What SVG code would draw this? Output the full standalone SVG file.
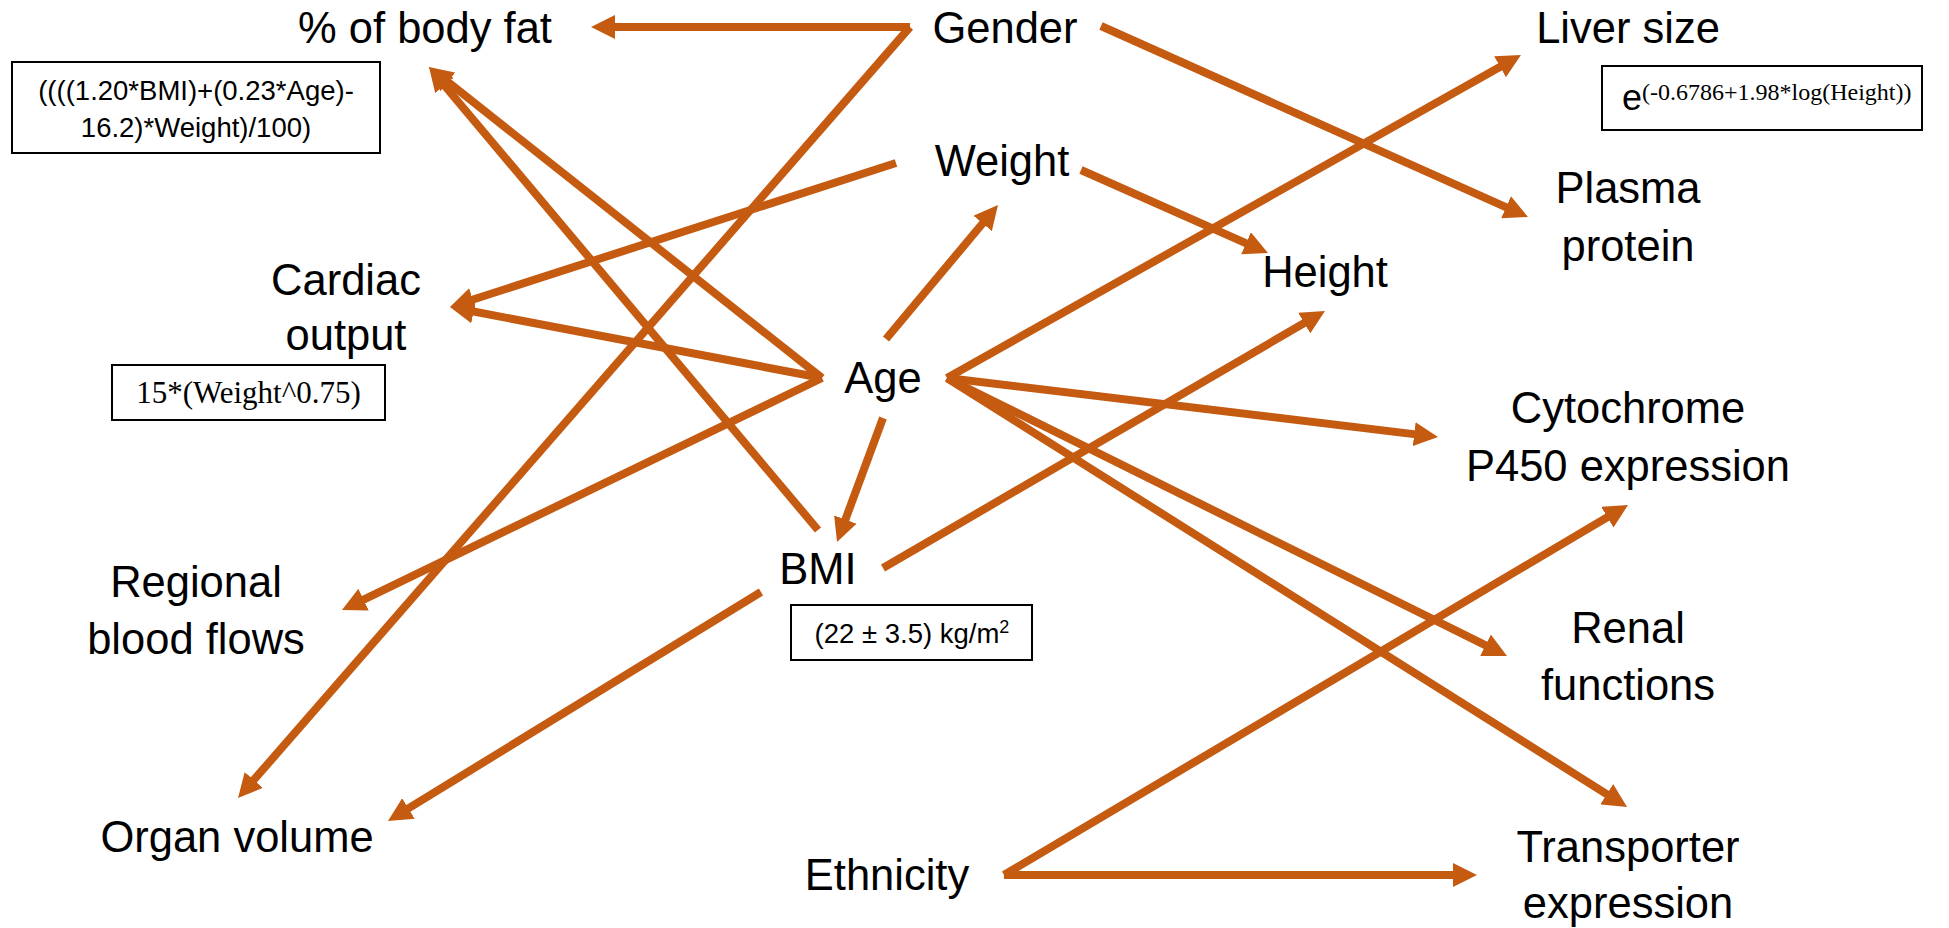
<svg xmlns="http://www.w3.org/2000/svg" width="1949" height="928" viewBox="0 0 1949 928">
<style>
.lbl{font-family:"Liberation Sans",Arial,sans-serif;font-size:43.5px;fill:#000;text-anchor:middle}
.frm{font-family:"Liberation Sans",Arial,sans-serif;font-size:27.5px;fill:#000;text-anchor:middle}
.ser{font-family:"Liberation Serif","Times New Roman",serif;fill:#000}
.box{fill:#fff;stroke:#000;stroke-width:2}
.edge{stroke:#C55A11;stroke-width:8;fill:none;stroke-linecap:butt}
.arr{marker-end:url(#ah)}
</style>
<defs>
<marker id="ah" viewBox="0 0 10 10" refX="5" refY="5" markerWidth="3" markerHeight="3" markerUnits="strokeWidth" orient="auto">
<path d="M0,0 L10,5 L0,10 z" fill="#C55A11"/>
</marker>
</defs>
<rect width="1949" height="928" fill="#fff"/>
<g id="connectors">
<line class="edge arr" x1="910" y1="27" x2="603" y2="27"/>
<line class="edge arr" x1="910" y1="27" x2="245.9" y2="789"/>
<line class="edge arr" x1="1101" y1="26" x2="1517" y2="212.1"/>
<line class="edge arr" x1="896" y1="163" x2="461.4" y2="303.3"/>
<line class="edge arr" x1="822" y1="378" x2="461.8" y2="309.3"/>
<line class="edge arr" x1="822" y1="378" x2="438.4" y2="74.4"/>
<line class="edge arr" x1="818" y1="530" x2="436.7" y2="76.2"/>
<line class="edge arr" x1="822" y1="378" x2="352.8" y2="604.8"/>
<line class="edge arr" x1="886" y1="339" x2="990.3" y2="214.2"/>
<line class="edge arr" x1="883" y1="418" x2="841.2" y2="530.8"/>
<line class="edge arr" x1="1081" y1="170" x2="1257" y2="248.1"/>
<line class="edge arr" x1="883" y1="568" x2="1314.6" y2="317"/>
<line class="edge arr" x1="947" y1="378" x2="1510.5" y2="60.9"/>
<line class="edge arr" x1="947" y1="378" x2="1426.1" y2="435.6"/>
<line class="edge arr" x1="947" y1="378" x2="1496.3" y2="650.7"/>
<line class="edge arr" x1="947" y1="378" x2="1616.9" y2="800.6"/>
<line class="edge arr" x1="1004" y1="875" x2="1617.7" y2="511.1"/>
<line class="edge arr" x1="1004" y1="875" x2="1465" y2="875"/>
<line class="edge arr" x1="761" y1="592" x2="398.2" y2="814.7"/>
</g>
<g id="body-fat">
<text class="lbl" x="425" y="43">% of body fat</text>
<rect class="box" x="12" y="62" width="368" height="91"/>
<text class="frm" x="196" y="100">((((1.20*BMI)+(0.23*Age)-</text>
<text class="frm" x="196" y="137">16.2)*Weight)/100)</text>
</g>
<g id="gender"><text class="lbl" x="1005" y="43">Gender</text></g>
<g id="weight"><text class="lbl" x="1002" y="176">Weight</text></g>
<g id="liver-size">
<text class="lbl" x="1628" y="43">Liver size</text>
<rect class="box" x="1602" y="66" width="320" height="64"/>
<text x="1622" y="110" style="font-family:'Liberation Sans',Arial,sans-serif;font-size:36px">e<tspan class="ser" font-size="24" dy="-10">(-0.6786+1.98*log(Height))</tspan></text>
</g>
<g id="plasma-protein">
<text class="lbl" x="1628" y="203">Plasma</text>
<text class="lbl" x="1628" y="261">protein</text>
</g>
<g id="height"><text class="lbl" x="1325" y="287">Height</text></g>
<g id="cardiac-output">
<text class="lbl" x="346" y="295">Cardiac</text>
<text class="lbl" x="346" y="350">output</text>
<rect class="box" x="112" y="365" width="273" height="55"/>
<text class="ser" x="248.5" y="403" font-size="31" text-anchor="middle">15*(Weight^0.75)</text>
</g>
<g id="age"><text class="lbl" x="883" y="393">Age</text></g>
<g id="cytochrome">
<text class="lbl" x="1628" y="423">Cytochrome</text>
<text class="lbl" x="1628" y="481">P450 expression</text>
</g>
<g id="bmi">
<text class="lbl" x="818" y="584">BMI</text>
<rect class="box" x="791" y="605" width="241" height="55"/>
<text class="frm" x="912" y="643" font-size="27">(22 ± 3.5) kg/m<tspan font-size="18" dy="-10">2</tspan></text>
</g>
<g id="regional-blood-flows">
<text class="lbl" x="196" y="597">Regional</text>
<text class="lbl" x="196" y="654">blood flows</text>
</g>
<g id="renal-functions">
<text class="lbl" x="1628" y="643">Renal</text>
<text class="lbl" x="1628" y="700">functions</text>
</g>
<g id="organ-volume"><text class="lbl" x="237" y="852">Organ volume</text></g>
<g id="ethnicity"><text class="lbl" x="887" y="890">Ethnicity</text></g>
<g id="transporter">
<text class="lbl" x="1628" y="862">Transporter</text>
<text class="lbl" x="1628" y="918">expression</text>
</g>
</svg>
